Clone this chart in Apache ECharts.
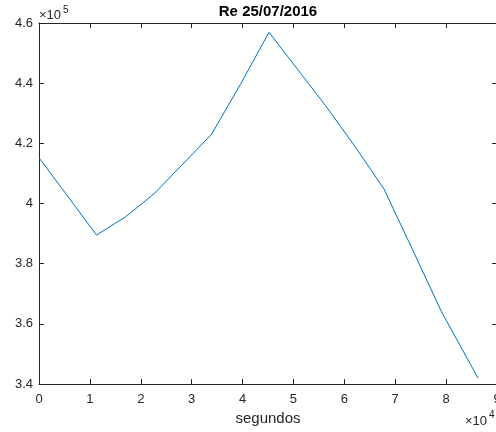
<!DOCTYPE html>
<html>
<head>
<meta charset="utf-8">
<script src="https://cdn.jsdelivr.net/npm/echarts@6/dist/echarts.min.js"></script>
<style>
    html, body { margin: 0; padding: 0; background: #fff; }
    #chart { width: 496px; height: 432px; }
</style>
</head>
<body>
<div id="chart"></div>
<script>
// segundos (tiempo) y valores
const tiempos = [0, 5650, 11300, 16950, 22600, 28250, 33900, 39550, 45200,
    50850, 56500, 62150, 67800, 73450, 79100, 86300];
const valores = [415200, 402400, 389500, 395500, 403200, 413100, 423000, 439500, 456900,
    444500, 432100, 418800, 404800, 384500, 364000, 341900];
const xTicks = [0, 1, 2, 3, 4, 5, 6, 7, 8, 9];       // x 10^4
const yTicks = [3.4, 3.6, 3.8, 4, 4.2, 4.4, 4.6];    // x 10^5

const txt = '#262626';
const font = '"Liberation Sans", Arial, sans-serif';

let chartDom = document.getElementById('chart');
let myChart = echarts.init(chartDom);
let option;

const axisCommon = {
    axisLine: { show: true, onZero: false, lineStyle: { color: txt, width: 1 } },
    axisTick: { show: true, inside: true, length: 5, lineStyle: { color: txt, width: 1 } },
    splitLine: { show: false }
};

// texto suelto (titulo y exponentes), y = borde superior
function label(text, x, y, size, extra) {
    return {
        type: 'text', x: x, y: y, silent: true,
        style: Object.assign({
            text: text, fill: txt, fontSize: size, fontFamily: font,
            textAlign: 'left', textVerticalAlign: 'top'
        }, extra || {})
    };
}

option = {
    animation: false,
    backgroundColor: '#fff',
    grid: { left: 39, top: 23, right: -1, bottom: 48, outerBoundsMode: 'none', containLabel: false },
    xAxis: [
        Object.assign({}, axisCommon, {
            type: 'value', position: 'bottom',
            min: 0, max: 90000, interval: 10000,
            name: 'segundos', nameLocation: 'middle', nameGap: 26,
            nameTextStyle: { color: txt, fontSize: 15, fontFamily: font },
            axisLabel: {
                color: txt, fontSize: 13, fontFamily: font, margin: 9,
                formatter: v => String(xTicks[Math.round(v / 10000)])
            }
        }),
        Object.assign({}, axisCommon, {
            type: 'value', position: 'top',
            min: 0, max: 90000, interval: 10000,
            axisLabel: { show: false }
        })
    ],
    yAxis: [
        Object.assign({}, axisCommon, {
            type: 'value', position: 'left',
            min: 340000, max: 460000, interval: 20000,
            axisLabel: {
                color: txt, fontSize: 13, fontFamily: font, margin: 6,
                formatter: v => String(yTicks[Math.round((v - 340000) / 20000)])
            }
        }),
        Object.assign({}, axisCommon, {
            type: 'value', position: 'right',
            min: 340000, max: 460000, interval: 20000,
            axisLabel: { show: false }
        })
    ],
    graphic: [
        label('Re 25/07/2016', 268, 4, 15, { fill: '#000', fontWeight: 'bold', textAlign: 'center' }),
        label('×10', 39, 9, 13),
        label('5', 63, 5, 10),
        label('×10', 465, 415, 13),
        label('4', 489, 410, 10)
    ],
    series: [
        {
            type: 'line',
            xAxisIndex: 0, yAxisIndex: 0,
            data: tiempos.map((t, i) => [t, valores[i]]),
            showSymbol: false,
            lineStyle: { color: '#0072BD', width: 1 }
        }
    ]
};
option && myChart.setOption(option);
</script>
</body>
</html>
